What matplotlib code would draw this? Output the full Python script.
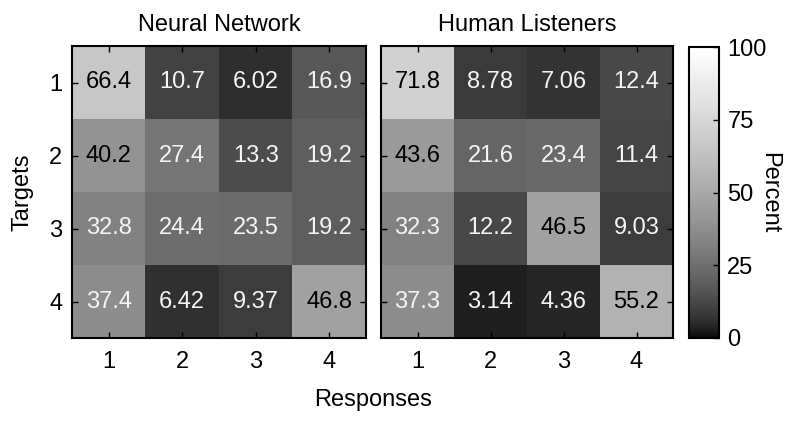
import numpy as np
import matplotlib
matplotlib.use("Agg")
import matplotlib.pyplot as plt
from matplotlib.colors import LinearSegmentedColormap

plt.rcParams['font.family'] = ['Liberation Sans', 'DejaVu Sans']

targets = ["1", "2", "3", "4"]
responses = ["1", "2", "3", "4"]
titles = ["Neural Network", "Human Listeners"]
neural = [
    [66.4, 10.7, 6.02, 16.9],
    [40.2, 27.4, 13.3, 19.2],
    [32.8, 24.4, 23.5, 19.2],
    [37.4, 6.42, 9.37, 46.8],
]
human = [
    [71.8, 8.78, 7.06, 12.4],
    [43.6, 21.6, 23.4, 11.4],
    [32.3, 12.2, 46.5, 9.03],
    [37.3, 3.14, 4.36, 55.2],
]
cbar_ticks = [0, 25, 50, 75, 100]

# brightened gray colormap
xs = np.linspace(0, 1, 256)
g = xs ** 0.6
cmap = LinearSegmentedColormap.from_list("bgray", list(zip(xs, np.stack([g, g, g], 1))))

fig = plt.figure(figsize=(8, 4.24), dpi=100)
H = 424.0
def ax_rect(x0, x1, y0, y1):
    return [x0 / 800.0, (H - y1) / H, (x1 - x0) / 800.0, (y1 - y0) / H]

axes = [fig.add_axes(ax_rect(72, 366, 46, 338)), fig.add_axes(ax_rect(381, 673, 46, 338))]
cax = fig.add_axes(ax_rect(689, 719, 47, 338))

fs = 17
for i, (ax, data, title) in enumerate(zip(axes, [neural, human], titles)):
    arr = np.array(data)
    im = ax.imshow(arr, cmap=cmap, vmin=0, vmax=100, aspect='auto', interpolation='nearest')
    for r in range(arr.shape[0]):
        for c in range(arr.shape[1]):
            v = arr[r, c]
            col = 'black' if v >= 40 else '#f4f4f4'
            ax.text(c, r, f"{v:g}", ha='center', va='center', color=col, fontsize=fs)
    ax.set_xticks(range(len(responses)))
    ax.set_xticklabels(responses, fontsize=fs)
    ax.set_yticks(range(len(targets)))
    if i == 0:
        ax.set_yticklabels(targets, fontsize=fs)
    else:
        ax.set_yticklabels([])
    ax.tick_params(axis='x', direction='in', length=4, width=1, top=True, pad=9)
    ax.tick_params(axis='y', direction='in', length=4, width=1, right=True, pad=7)
    ax.set_title(title, fontsize=fs, pad=11)
    for s in ax.spines.values():
        s.set_linewidth(1.5)

cb = fig.colorbar(im, cax=cax)
cb.set_ticks(cbar_ticks)
cb.ax.tick_params(direction='in', length=4, width=1, labelsize=fs, pad=6)
cb.outline.set_linewidth(1.5)
cb.set_label("Percent", rotation=270, fontsize=fs, labelpad=10)

fig.text(373 / 800.0, 1 - 400 / H, "Responses", ha='center', va='center', fontsize=fs)
fig.text(22 / 800.0, 1 - 192 / H, "Targets", ha='center', va='center', rotation=90, fontsize=fs)

fig.savefig("out.png", dpi=100)
